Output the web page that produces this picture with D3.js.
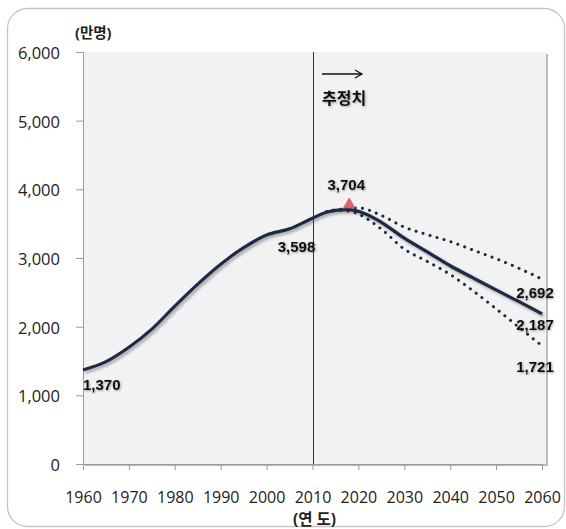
<!DOCTYPE html>
<html><head><meta charset="utf-8">
<script src="https://cdn.jsdelivr.net/npm/d3@7"></script>
<style>html,body{margin:0;padding:0;background:#fff;}svg{display:block;font-family:"Open Sans","Noto Sans CJK KR",sans-serif;}</style>
</head><body>
<script>
// ---- data (만명) ----
const years = [1960,1965,1970,1975,1980,1985,1990,1995,2000,2005,2010,2013,2016,2018,2020,2025,2030,2035,2040,2045,2050,2055,2060];
const mid   = [1370,1490,1700,1965,2300,2620,2910,3150,3335,3425,3580,3665,3700,3704,3680,3520,3289,3090,2887,2710,2535,2365,2187];
const highYears = [2013,2016,2018,2020,2025,2030,2035,2040,2045,2050,2055,2060];
const high      = [3675,3710,3725,3730,3620,3450,3340,3240,3115,2990,2850,2692];
const lowYears  = [2013,2016,2018,2020,2025,2030,2035,2040,2045,2050,2055,2060];
const low       = [3665,3690,3685,3640,3420,3130,2950,2760,2520,2260,1990,1721];
const yTicks = [0,1000,2000,3000,4000,5000,6000];
const xTicks = [1960,1970,1980,1990,2000,2010,2020,2030,2040,2050,2060];
const labels = [
  {year:1960, value:1370, text:"1,370"},
  {year:2010, value:3598, text:"3,598"},
  {year:2018, value:3704, text:"3,704"},
  {year:2060, value:2692, text:"2,692"},
  {year:2060, value:2187, text:"2,187"},
  {year:2060, value:1721, text:"1,721"}
];
const peak = {year:2018, value:3704};

const W=566,H=529;
const svg=d3.select("body").append("svg").attr("width",W).attr("height",H);
const defs=svg.append("defs");
const f=defs.append("filter").attr("id","sh").attr("x","-10%").attr("y","-10%").attr("width","130%").attr("height","130%");
f.append("feGaussianBlur").attr("in","SourceAlpha").attr("stdDeviation",1.6).attr("result","b");
f.append("feOffset").attr("in","b").attr("dx",1.5).attr("dy",2).attr("result","o");
f.append("feComponentTransfer").attr("in","o").attr("result","o2").append("feFuncA").attr("type","linear").attr("slope",0.35);
const m=f.append("feMerge");m.append("feMergeNode").attr("in","o2");m.append("feMergeNode").attr("in","SourceGraphic");
const f2=defs.append("filter").attr("id","tsh");
f2.append("feGaussianBlur").attr("in","SourceAlpha").attr("stdDeviation",0.8).attr("result","b");
f2.append("feOffset").attr("in","b").attr("dx",1).attr("dy",1).attr("result","o");
f2.append("feComponentTransfer").attr("in","o").attr("result","o2").append("feFuncA").attr("type","linear").attr("slope",0.35);
const m2=f2.append("feMerge");m2.append("feMergeNode").attr("in","o2");m2.append("feMergeNode").attr("in","SourceGraphic");

// frame
svg.append("rect").attr("x",7.5).attr("y",8.5).attr("width",557).attr("height",518).attr("rx",20)
  .attr("fill","#fff").attr("stroke","#c4c4c4").attr("stroke-width",1.3);

const x=d3.scaleLinear().domain([1960,2060]).range([83,542]);
const y=d3.scaleLinear().domain([0,6000]).range([464,52]);

// plot area with shadow
svg.append("rect").attr("x",85).attr("y",54).attr("width",463).attr("height",412).attr("fill","#bdbdbd");
svg.append("rect").attr("x",83).attr("y",52).attr("width",463).attr("height",412).attr("fill","#f2f2f2");

// axes
const ya=svg.append("g").attr("transform","translate(83,0)")
  .call(d3.axisLeft(y).tickValues(yTicks).tickSize(7).tickPadding(16).tickFormat(d3.format(",")));
ya.attr("font-family",null).attr("font-size",null);
ya.select(".domain").attr("stroke","#9a9a9a");
ya.selectAll(".tick line").attr("stroke","#9a9a9a");
ya.selectAll("text").style("font-family","'Open Sans',sans-serif").style("font-size","16.5px").attr("fill","#222").attr("dy","0.4em");

const xa=svg.append("g").attr("transform","translate(0,464)")
  .call(d3.axisBottom(x).tickValues(xTicks).tickSize(6).tickPadding(22).tickFormat(d3.format("d")));
xa.attr("font-family",null).attr("font-size",null);
xa.select(".domain").attr("stroke","#9a9a9a");
xa.selectAll(".tick line").attr("stroke","#9a9a9a");
xa.selectAll("text").style("font-family","'Open Sans',sans-serif").style("font-size","16px").attr("fill","#222");

// vertical line at 2010
svg.append("line").attr("x1",x(2010)+1).attr("x2",x(2010)+1).attr("y1",y(6000)).attr("y2",y(0))
  .attr("stroke","#333").attr("stroke-width",1);

// lines
const line=d3.line().x(d=>x(d[0])).y(d=>y(d[1])).curve(d3.curveMonotoneX);
const navy="#1c2a45";
svg.append("path").datum(highYears.map((d,i)=>[d,high[i]])).attr("d",line)
  .attr("fill","none").attr("stroke",navy).attr("stroke-width",3).attr("stroke-linecap","round").attr("stroke-dasharray","0.1 7.2");
svg.append("path").datum(lowYears.map((d,i)=>[d,low[i]])).attr("d",line)
  .attr("fill","none").attr("stroke",navy).attr("stroke-width",3).attr("stroke-linecap","round").attr("stroke-dasharray","0.1 7.2");
svg.append("path").datum(years.map((d,i)=>[d,mid[i]])).attr("d",line)
  .attr("fill","none").attr("stroke",navy).attr("stroke-width",3.2).attr("filter","url(#sh)");

// peak marker
svg.append("path").attr("d",d3.symbol(d3.symbolTriangle,60)()).attr("transform",`translate(${x(peak.year)},${y(peak.value)-5})`)
  .attr("fill","#e06666").attr("stroke","#c94a4a").attr("stroke-width",0.5);

// labels
const off={"1,370":[0,20,"start"],"3,598":[-16,35,"middle"],"3,704":[-3,-20,"middle"],"2,692":[-7,19,"middle"],"2,187":[-7,16,"middle"],"1,721":[-7,26,"middle"]};
labels.forEach(l=>{
  const o=off[l.text];
  svg.append("text").attr("x",x(l.year)+o[0]).attr("y",y(l.value)+o[1]).attr("text-anchor",o[2])
   .style("font-family","Arial,'Liberation Sans',sans-serif").attr("font-weight","bold").style("font-size","15px")
   .attr("fill","#111").attr("filter","url(#tsh)").text(l.text);
});

// unit labels
svg.append("text").attr("x",75).attr("y",38).style("font-size","14.5px").attr("font-weight","bold").attr("fill","#222").text("(만명)");
svg.append("text").attr("x",x(2010)+2).attr("y",525).attr("text-anchor","middle").style("font-size","15.5px").attr("font-weight","bold").attr("fill","#222").text("(연 도)");

// estimate arrow
const ay=74;
svg.append("line").attr("x1",322).attr("x2",362).attr("y1",ay).attr("y2",ay).attr("stroke","#111").attr("stroke-width",1.3);
svg.append("path").attr("d",`M355,${ay-4} L362,${ay} L355,${ay+4}`).attr("fill","none").attr("stroke","#111").attr("stroke-width",1.3);
svg.append("text").attr("x",322).attr("y",104).style("font-size","16px").attr("font-weight","bold").attr("fill","#111").attr("filter","url(#tsh)").text("추정치");
</script>
</body></html>
